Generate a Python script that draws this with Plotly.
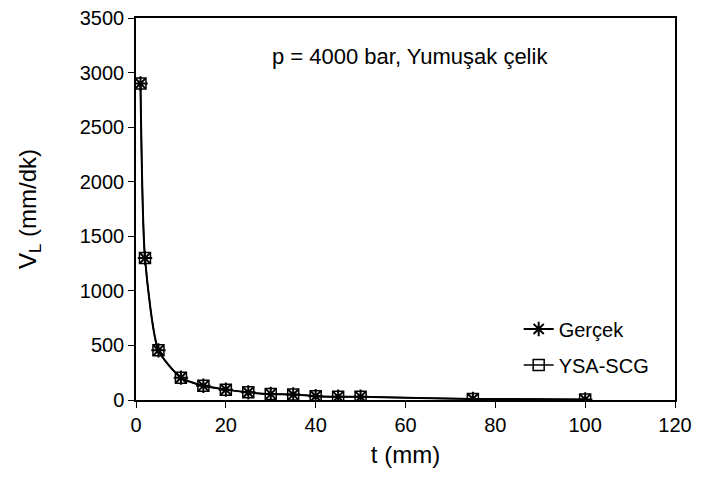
import plotly.graph_objects as go

t_mm = [1, 2, 5, 10, 15, 20, 25, 30, 35, 40, 45, 50, 75, 100]
gercek = [2900, 1300, 455, 205, 130, 95, 70, 55, 50, 35, 30, 30, 10, 5]
ysa_scg = [2900, 1300, 455, 205, 130, 95, 70, 55, 50, 35, 30, 30, 10, 5]

x_ticks = [0, 20, 40, 60, 80, 100, 120]
y_ticks = [0, 500, 1000, 1500, 2000, 2500, 3000, 3500]

fig = go.Figure()
fig.add_trace(go.Scatter(
    x=t_mm, y=gercek, name="Gerçek", mode="lines+markers", legendgroup="g1",
    line=dict(color="black", width=2, shape="spline", smoothing=0.6),
    marker=dict(symbol="asterisk-open", size=12, color="black",
                line=dict(color="black", width=2)),
))
fig.add_trace(go.Scatter(
    x=t_mm, y=ysa_scg, name="YSA-SCG", mode="lines+markers", legendgroup="g2",
    line=dict(color="black", width=1.5, shape="spline", smoothing=0.6),
    marker=dict(symbol="square-open", size=11, color="black",
                line=dict(color="black", width=1.5)),
))

font = dict(family="Liberation Sans, Arial, sans-serif", size=20, color="black")

fig.update_layout(
    width=701, height=499,
    margin=dict(l=128, r=34, t=10, b=107),
    paper_bgcolor="white", plot_bgcolor="white",
    font=font,
    showlegend=True,
    legend=dict(x=0.71, y=0.237, xanchor="left", yanchor="top",
                bgcolor="rgba(0,0,0,0)", font=font, traceorder="grouped",
                tracegroupgap=7),
    xaxis=dict(range=[0, 120], tickvals=x_ticks, ticks="outside", ticklen=6,
               tickcolor="black", showline=True, linecolor="black", linewidth=1.5,
               mirror=True, showgrid=False, zeroline=False, automargin=False,
               ticklabeloverflow="allow",
               title=dict(text="t (mm)", standoff=11)),
    yaxis=dict(range=[0, 3500], tickvals=y_ticks, ticks="outside", ticklen=6,
               tickcolor="black", showline=True, linecolor="black", linewidth=1.5,
               mirror=True, showgrid=False, zeroline=False, automargin=False,
               ticklabeloverflow="allow",
               title=dict(text="V<sub>L</sub> (mm/dk)", standoff=36)),
    annotations=[dict(text="p = 4000 bar, Yumuşak çelik", x=0.508, y=0.898,
                      xref="paper", yref="paper", showarrow=False,
                      xanchor="center", yanchor="middle",
                      font=dict(family="Liberation Sans, Arial, sans-serif",
                                size=22, color="black"))],
)

fig.write_html("out.html")
